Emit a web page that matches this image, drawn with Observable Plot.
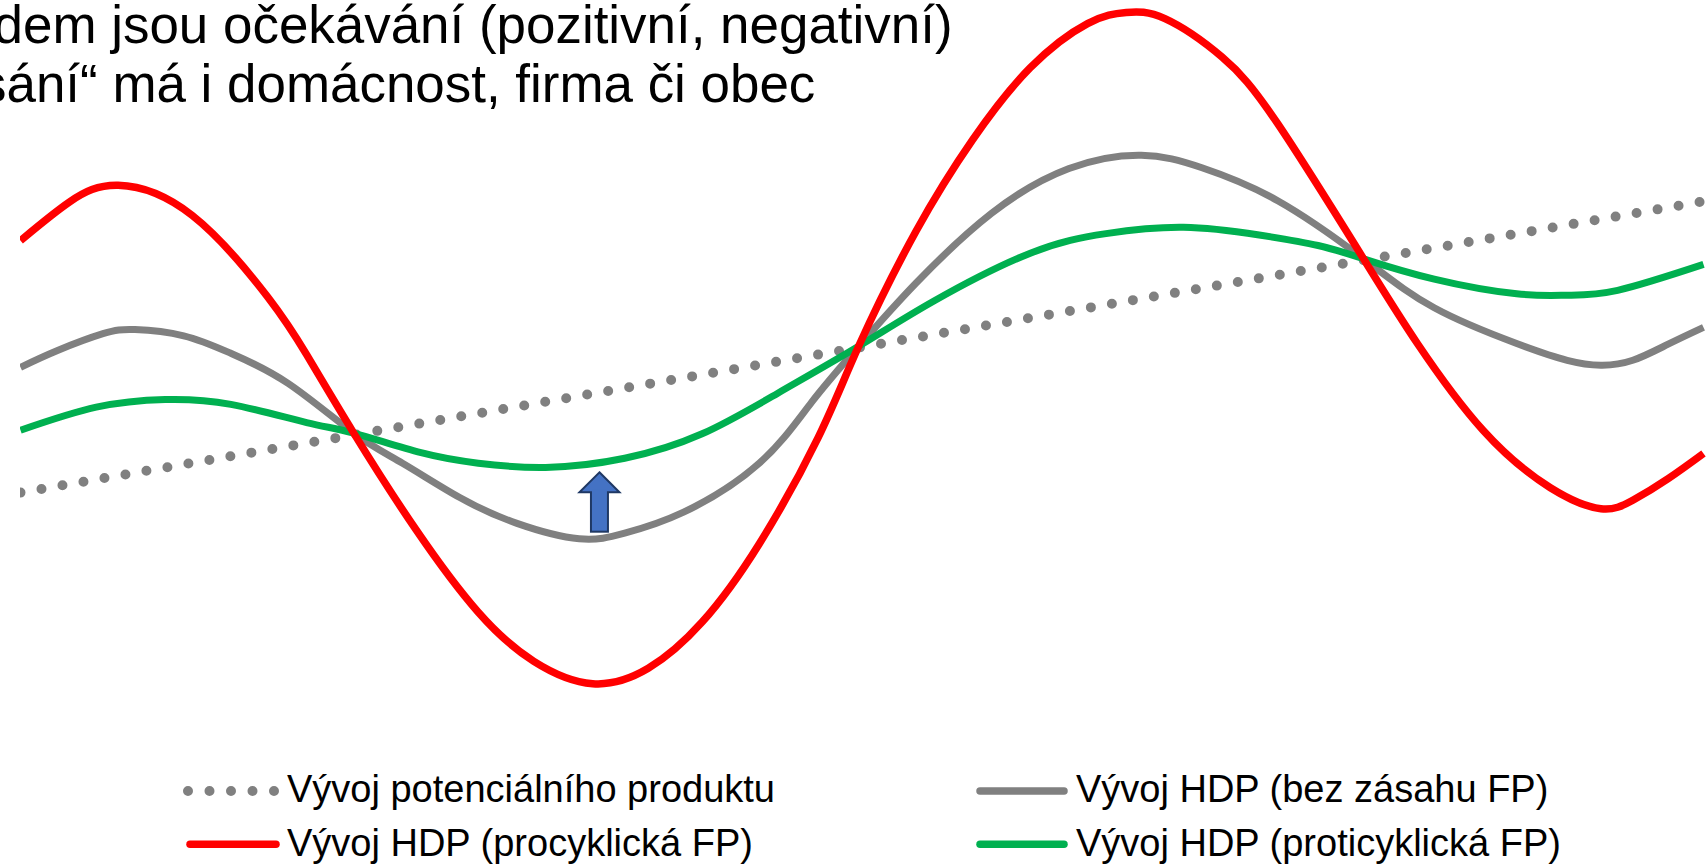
<!DOCTYPE html>
<html>
<head>
<meta charset="utf-8">
<script src="https://cdn.jsdelivr.net/npm/d3@7"></script>
<script src="https://cdn.jsdelivr.net/npm/@observablehq/plot@0.6"></script>
<style>
  html, body { margin: 0; padding: 0; background: #fff; overflow: hidden; }
  #root { position: relative; width: 1706px; height: 865px; overflow: hidden; background: #fff;
          font-family: "Liberation Sans", Arial, sans-serif; color: #000; }
  .title { position: absolute; width: max-content; white-space: nowrap; font-size: 54px; line-height: 54px;
           transform: scaleX(0.98); transform-origin: right center; z-index: 2; }
  #legend { position: absolute; left: 0; top: 760px; width: 1706px; height: 105px; }
  #legend svg { position: absolute; left: 0; top: 0; }
  .lg { position: absolute; white-space: nowrap; font-size: 38px; line-height: 38px; }
</style>
</head>
<body>
<div id="root"></div>
<script>
// ---- data (time 0..100, level 0..100) ----
const titleLines = [
  "dem jsou očekávání (pozitivní, negativní)",
  "sání“ má i domácnost, firma či obec"
];
const seriesLabels = [
  "Vývoj potenciálního produktu",
  "Vývoj HDP (bez zásahu FP)",
  "Vývoj HDP (procyklická FP)",
  "Vývoj HDP (proticyklická FP)"
];
const potentialOutput = [[0, 29.7], [100, 71.3]];
const gdpNoPolicy = [
  [0,47.6],[2.2,50.0],[4.9,52.4],[6.8,53.0],[9.7,52.1],[12.5,49.6],[15.9,45.3],[19.8,38.2],
  [22.7,33.9],[26.1,29.0],[29.5,25.3],[33.2,23.1],[35.9,23.9],[39.4,26.9],[43.9,33.9],[47.0,42.6],
  [49.8,50.6],[53.2,59.6],[57.7,69.6],[62.3,76.0],[66.6,77.9],[70.2,76.1],[74.7,71.4],[79.8,63.1],
  [84.0,56.1],[88.9,51.0],[91.9,48.6],[93.9,47.9],[95.8,48.6],[97.9,50.9],[100,53.3]
];
const gdpProcyclical = [
  [0,65.7],[2.9,71.2],[5.8,73.6],[10.2,69.3],[14.7,57.6],[17.0,49.4],[19.8,38.2],[23.5,24.4],
  [27.2,12.6],[30.5,5.6],[34.0,2.4],[37.3,4.6],[40.5,11.2],[43.9,22.4],[47.4,37.6],[49.8,50.6],
  [53.2,67.0],[56.6,80.2],[60.0,90.4],[63.4,96.7],[65.7,98.3],[68.0,97.4],[71.4,91.9],[74.7,82.4],
  [79.8,63.1],[83.0,51.0],[86.9,38.6],[90.9,30.4],[93.9,27.4],[95.8,28.6],[97.9,31.7],[100,35.3]
];
const gdpCountercyclical = [
  [0,38.6],[4.5,41.9],[8.6,43.0],[12.5,42.3],[17.0,39.7],[19.8,38.2],[23.8,35.4],[27.2,33.9],
  [31.2,33.3],[35.9,34.6],[40.5,38.1],[45.0,43.9],[49.8,50.6],[54.3,57.1],[60.0,63.9],[64.5,66.7],
  [69.1,67.6],[73.6,66.5],[77.1,65.0],[79.8,63.1],[84.0,60.2],[88.9,58.1],[91.9,57.9],[94.9,58.6],[100,62.3]
];
const arrowX = [34.4];
const arrowFrom = [23.9];
const arrowTo = [32.6];

// ---- styles ----
const colors = { potential: "#808080", none: "#808080", pro: "#FF0000", counter: "#00B050",
                 arrowFill: "#4472C4", arrowStroke: "#1F3864" };

const rows = (pts) => pts.map(([t, v]) => ({ t, v }));
const arrows = arrowX.map((x, i) => ({ x, from: arrowFrom[i], to: arrowTo[i] }));
const arrowHead = { draw(ctx) { ctx.moveTo(0, 0); ctx.lineTo(20, 20); ctx.lineTo(-20, 20); ctx.closePath(); } };

const W = 1706, H = 760;
const chart = Plot.plot({
  width: W, height: H,
  marginLeft: 20, marginRight: 0, marginTop: 0, marginBottom: H - 700,
  x: { domain: [0, 100], range: [20, 1703], axis: null },
  y: { domain: [0, 100], range: [700, 0], axis: null },
  style: { background: "white", fontFamily: "Liberation Sans, Arial, sans-serif" },
  marks: [
    Plot.line(rows(potentialOutput), { x: "t", y: "v", stroke: colors.potential, strokeWidth: 10,
      strokeDasharray: "0 21.3", strokeLinecap: "round", clip: true }),
    Plot.line(rows(gdpNoPolicy), { x: "t", y: "v", stroke: colors.none, strokeWidth: 7,
      curve: "natural", strokeLinecap: "butt", clip: true }),
    Plot.line(rows(gdpCountercyclical), { x: "t", y: "v", stroke: colors.counter, strokeWidth: 7,
      curve: "natural", strokeLinecap: "butt", clip: true }),
    Plot.line(rows(gdpProcyclical), { x: "t", y: "v", stroke: colors.pro, strokeWidth: 7.5,
      curve: "natural", strokeLinecap: "butt", clip: true }),
    Plot.ruleX(arrows, { x: "x", y1: "to", y2: "from", stroke: colors.arrowStroke, strokeWidth: 19, insetTop: 20 }),
    Plot.dot(arrows, { x: "x", y: "to", symbol: arrowHead, fill: colors.arrowFill, stroke: colors.arrowStroke,
      strokeWidth: 2, strokeLinejoin: "miter" }),
    Plot.ruleX(arrows, { x: "x", y1: "to", y2: "from", stroke: colors.arrowFill, strokeWidth: 15, insetTop: 18, insetBottom: 2 })
  ]
});

const root = document.getElementById("root");
root.appendChild(chart);

// title lines (clipped at left edge like the reference)
const titleRight = [953, 815];
const titleTop = [-3, 56];
titleLines.forEach((txt, i) => {
  const d = document.createElement("div");
  d.className = "title";
  d.textContent = txt;
  d.style.right = (W - titleRight[i]) + "px";
  d.style.top = titleTop[i] + "px";
  root.appendChild(d);
});

// legend
const legend = d3.select(root).append("div").attr("id", "legend");
const lsvg = legend.append("svg").attr("width", W).attr("height", 105);
const legendItems = [
  { label: seriesLabels[0], kind: "dots", color: colors.potential, sx: 188, tx: 287, cy: 31, ty: 10 },
  { label: seriesLabels[1], kind: "line", color: colors.none, sx: 980, tx: 1076, cy: 31, ty: 10 },
  { label: seriesLabels[2], kind: "line", color: colors.pro, sx: 190, tx: 287, cy: 84.3, ty: 63.5 },
  { label: seriesLabels[3], kind: "line", color: colors.counter, sx: 980, tx: 1076, cy: 84.3, ty: 63.5 }
];
legendItems.forEach(it => {
  if (it.kind === "dots") {
    lsvg.append("line").attr("x1", it.sx).attr("x2", it.sx + 87).attr("y1", it.cy).attr("y2", it.cy)
      .attr("stroke", it.color).attr("stroke-width", 10).attr("stroke-linecap", "round")
      .attr("stroke-dasharray", "0 21.5");
  } else {
    lsvg.append("line").attr("x1", it.sx).attr("x2", it.sx + (it.sx < 500 ? 86 : 84)).attr("y1", it.cy).attr("y2", it.cy)
      .attr("stroke", it.color).attr("stroke-width", 7.5).attr("stroke-linecap", "round");
  }
  legend.append("div").attr("class", "lg").style("left", it.tx + "px").style("top", it.ty + "px").text(it.label);
});
</script>
</body>
</html>
